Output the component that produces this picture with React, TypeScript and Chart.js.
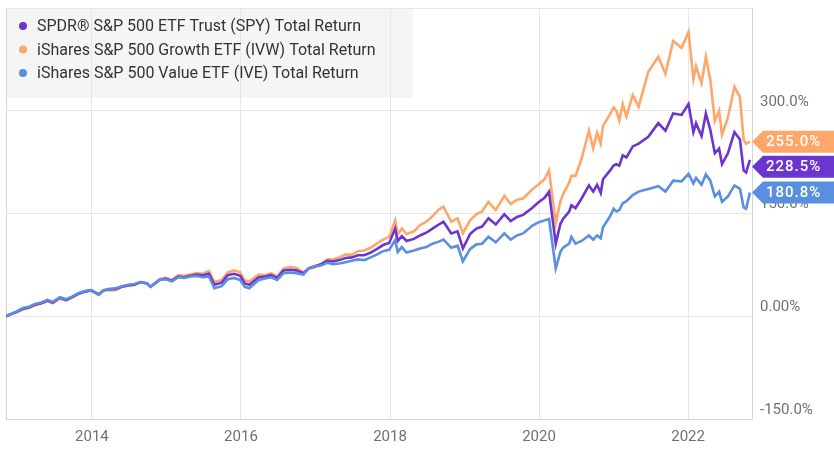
import { useEffect, useRef } from "react";
import Chart from "chart.js/auto";

const dates = [
  "2012-11-06", "2012-11-28", "2012-12-28", "2013-01-28", "2013-02-28", "2013-03-28",
  "2013-04-28", "2013-05-28", "2013-06-24", "2013-07-28", "2013-08-28", "2013-09-28",
  "2013-10-28", "2013-11-28", "2013-12-28", "2014-02-03", "2014-02-28", "2014-03-28",
  "2014-04-28", "2014-05-28", "2014-06-28", "2014-07-28", "2014-08-28", "2014-09-28",
  "2014-10-15", "2014-11-28", "2014-12-28", "2015-01-28", "2015-02-28", "2015-03-28",
  "2015-04-28", "2015-05-28", "2015-06-28", "2015-07-28", "2015-08-24", "2015-09-28",
  "2015-10-28", "2015-11-28", "2015-12-28", "2016-01-20", "2016-02-11", "2016-03-28",
  "2016-04-28", "2016-05-28", "2016-06-27", "2016-07-28", "2016-08-28", "2016-09-28",
  "2016-11-03", "2016-11-28", "2016-12-28", "2017-01-28", "2017-02-28", "2017-03-28",
  "2017-04-28", "2017-05-28", "2017-06-28", "2017-07-28", "2017-08-28", "2017-09-28",
  "2017-10-28", "2017-11-28", "2017-12-28", "2018-01-26", "2018-02-08", "2018-02-28",
  "2018-03-23", "2018-04-28", "2018-05-28", "2018-06-28", "2018-07-28", "2018-08-28",
  "2018-09-20", "2018-10-28", "2018-11-28", "2018-12-24", "2019-01-28", "2019-02-28",
  "2019-03-28", "2019-04-28", "2019-06-03", "2019-07-15", "2019-08-15", "2019-09-15",
  "2019-10-15", "2019-11-28", "2019-12-28", "2020-01-28", "2020-02-19", "2020-03-23",
  "2020-04-15", "2020-04-28", "2020-05-28", "2020-06-08", "2020-06-28", "2020-07-28",
  "2020-09-02", "2020-09-23", "2020-10-12", "2020-10-30", "2020-11-10", "2020-12-15",
  "2021-01-01", "2021-01-15", "2021-01-29", "2021-02-15", "2021-03-05", "2021-04-05",
  "2021-05-04", "2021-06-20", "2021-08-08", "2021-09-12", "2021-10-20", "2021-11-30",
  "2022-01-03", "2022-01-27", "2022-02-09", "2022-03-08", "2022-03-29", "2022-04-20",
  "2022-05-12", "2022-06-02", "2022-06-16", "2022-07-15", "2022-08-16", "2022-09-12",
  "2022-09-30", "2022-10-12", "2022-10-31",
];

// total return, %
const spy = [
  0, 3, 6, 11, 13, 17, 19, 23, 20, 27, 24, 28,
  33, 36, 38, 32, 38, 39, 40, 43, 45, 46, 50, 48,
  43, 53, 55, 52, 58, 57, 59, 61, 60, 62, 46, 49,
  60, 62, 59, 48, 46, 57, 58, 60, 56, 67, 68, 67,
  63, 70, 73, 76, 81, 80, 82, 85, 86, 89, 89, 93,
  98, 104, 107, 128, 110, 117, 110, 113, 118, 122, 128, 134,
  138, 121, 124, 99, 120, 128, 131, 143, 134, 149, 139, 145,
  148, 158, 166, 173, 182, 106, 135, 142, 153, 162, 158, 172,
  191, 182, 192, 180, 200, 213, 220, 222, 220, 235, 232, 248,
  252, 262, 282, 271, 296, 294, 310, 269, 282, 263, 296, 272,
  238, 245, 222, 238, 269, 258, 213, 210, 228.5,
];

const ivw = [
  0, 3, 6, 10, 12, 16, 19, 22, 19, 26, 23, 28,
  33, 36, 38, 31, 38, 38, 38, 43, 45, 46, 50, 48,
  43, 54, 56, 53, 60, 59, 61, 63, 62, 66, 50, 53,
  64, 67, 64, 52, 51, 61, 60, 63, 58, 70, 72, 71,
  64, 69, 71, 76, 83, 83, 86, 90, 90, 95, 96, 100,
  106, 112, 116, 140, 120, 128, 120, 124, 133, 138, 146, 156,
  160, 138, 143, 121, 140, 149, 153, 167, 155, 176, 164, 170,
  172, 185, 192, 200, 213, 136, 168, 178, 195, 205, 205, 230,
  271, 245, 268, 252, 278, 295, 305, 300, 286, 310, 292, 323,
  306, 357, 379, 354, 402, 392, 415, 346, 365, 340, 379, 345,
  285, 300, 265, 290, 335, 320, 258, 252, 255,
];

const ive = [
  0, 3, 7, 12, 14, 18, 20, 24, 21, 28, 25, 29,
  34, 37, 38, 32, 38, 40, 41, 44, 46, 47, 50, 48,
  43, 53, 54, 51, 57, 56, 58, 59, 57, 58, 41, 44,
  54, 56, 53, 43, 41, 53, 55, 57, 53, 63, 64, 63,
  61, 70, 73, 74, 78, 76, 77, 79, 81, 83, 82, 86,
  90, 95, 97, 111, 94, 101, 93, 96, 99, 101, 106, 109,
  112, 100, 103, 80, 98, 105, 106, 116, 108, 121, 112, 118,
  121, 132, 137, 140, 142, 70, 94, 100, 106, 116, 106, 110,
  118, 112, 118, 114, 130, 146, 157, 153, 155, 165, 168, 177,
  182, 186, 190, 182, 198, 197, 208, 194, 202, 192, 207, 198,
  175, 182, 167, 175, 191, 186, 159, 157, 180.8,
];

const seriesNames = [
  "SPDR® S&P 500 ETF Trust (SPY) Total Return",
  "iShares S&P 500 Growth ETF (IVW) Total Return",
  "iShares S&P 500 Value ETF (IVE) Total Return",
];
const seriesColors = ["#6b35d0", "#ffa66b", "#5a8fe0"];

const yearTicks = [2014, 2016, 2018, 2020, 2022];
const valueTicks = [-150, 0, 150, 300, 450];
const valueTickLabels = ["-150.0%", "0.00%", "150.0%", "300.0%", ""];
const xStart = "2012-11-06";
const xEnd = "2022-11-10";

const toYear = (d: string) => {
  const [y, m, day] = d.split("-").map(Number);
  const start = Date.UTC(y, 0, 1);
  const end = Date.UTC(y + 1, 0, 1);
  return y + (Date.UTC(y, m - 1, day) - start) / (end - start);
};

const points = (values: number[]) => values.map((v, i) => ({ x: toYear(dates[i]), y: v }));

const overlay = {
  id: "overlay",
  beforeDraw(chart: any) {
    const { ctx, chartArea } = chart;
    ctx.save();
    ctx.fillStyle = "#f5f5f5";
    ctx.fillRect(chartArea.left, chartArea.top, 407, 90);
    ctx.restore();
  },
  beforeDatasetsDraw(chart: any) {
    const { ctx, chartArea } = chart;
    ctx.save();
    ctx.strokeStyle = "#d4d4d4";
    ctx.lineWidth = 1;
    ctx.beginPath();
    ctx.moveTo(chartArea.left + 0.5, chartArea.top);
    ctx.lineTo(chartArea.left + 0.5, chartArea.bottom);
    ctx.stroke();
    ctx.restore();
  },
  afterDraw(chart: any) {
    const { ctx, chartArea, width } = chart;
    ctx.save();
    // legend
    ctx.font = "16px Roboto";
    ctx.textBaseline = "middle";
    seriesNames.forEach((name, i) => {
      const y = chartArea.top + 18 + i * 23.5;
      ctx.fillStyle = seriesColors[i];
      ctx.beginPath();
      ctx.arc(chartArea.left + 17, y, 4, 0, Math.PI * 2);
      ctx.fill();
      ctx.fillStyle = "#333";
      ctx.fillText(name, chartArea.left + 31, y + 1);
    });

    // last-value tags
    const yScale = chart.scales.y;
    const tags = [spy, ivw, ive]
      .map((s, i) => ({ value: s[s.length - 1], color: seriesColors[i], y: yScale.getPixelForValue(s[s.length - 1]) }))
      .sort((a, b) => a.y - b.y);
    for (let i = 1; i < tags.length; i++) {
      if (tags[i].y - tags[i - 1].y < 25) tags[i].y = tags[i - 1].y + 25;
    }
    const x0 = chartArea.right;
    ctx.font = "500 15px Roboto";
    (ctx as any).letterSpacing = "1px";
    tags.forEach((t) => {
      ctx.fillStyle = t.color;
      ctx.beginPath();
      ctx.moveTo(x0, t.y);
      ctx.lineTo(x0 + 11, t.y - 11);
      ctx.lineTo(width, t.y - 11);
      ctx.lineTo(width, t.y + 11);
      ctx.lineTo(x0 + 11, t.y + 11);
      ctx.closePath();
      ctx.fill();
      ctx.fillStyle = "#fff";
      ctx.fillText(t.value.toFixed(1) + "%", x0 + 14, t.y + 1);
    });
    ctx.restore();
  },
};

export default function App() {
  const canvasRef = useRef<HTMLCanvasElement | null>(null);
  const chartRef = useRef<Chart | null>(null);

  useEffect(() => {
    document.body.style.margin = "0";
    if (!canvasRef.current) return;
    chartRef.current = new Chart(canvasRef.current, {
      type: "line",
      data: {
        datasets: [
          { label: seriesNames[0], data: points(spy), borderColor: seriesColors[0], order: 1 },
          { label: seriesNames[1], data: points(ivw), borderColor: seriesColors[1], order: 2 },
          { label: seriesNames[2], data: points(ive), borderColor: seriesColors[2], order: 0 },
        ],
      },
      options: {
        responsive: false,
        animation: false,
        layout: { padding: { left: 6, top: 8, right: 0, bottom: 0 } },
        elements: {
          line: { borderWidth: 2.6, tension: 0 },
          point: { radius: 0, hoverRadius: 0 },
        },
        plugins: {
          legend: { display: false },
          tooltip: { enabled: false },
        },
        scales: {
          x: {
            type: "linear",
            min: toYear(xStart),
            max: toYear(xEnd),
            afterBuildTicks: (axis: any) => {
              axis.ticks = yearTicks.map((value) => ({ value }));
            },
            afterFit: (axis: any) => {
              axis.height = 47;
            },
            grid: { color: "#e6e6e6", drawTicks: false },
            border: { display: true, color: "#d4d4d4" },
            ticks: {
              color: "#707070",
              font: { family: "Roboto", size: 15 },
              padding: 9,
              maxRotation: 0,
              autoSkip: false,
              callback: (v: any) => String(v),
            },
          },
          y: {
            type: "linear",
            position: "right",
            min: -150,
            max: 450,
            afterBuildTicks: (axis: any) => {
              axis.ticks = valueTicks.map((value) => ({ value }));
            },
            afterFit: (axis: any) => {
              axis.width = 82;
            },
            grid: { color: "#e6e6e6", drawTicks: false },
            border: { display: true, color: "#d4d4d4" },
            ticks: {
              color: "#707070",
              font: { family: "Roboto", size: 15, lineHeight: 0.01 },
              padding: 8,
              labelOffset: -9,
              callback: (v: any) => valueTickLabels[valueTicks.indexOf(Number(v))] ?? "",
            },
          },
        },
      },
      plugins: [overlay],
    });

    return () => {
      chartRef.current?.destroy();
      chartRef.current = null;
    };
  }, []);

  return (
    <div style={{ width: 834, height: 466 }}>
      <canvas ref={canvasRef} width={834} height={466} />
    </div>
  );
}
